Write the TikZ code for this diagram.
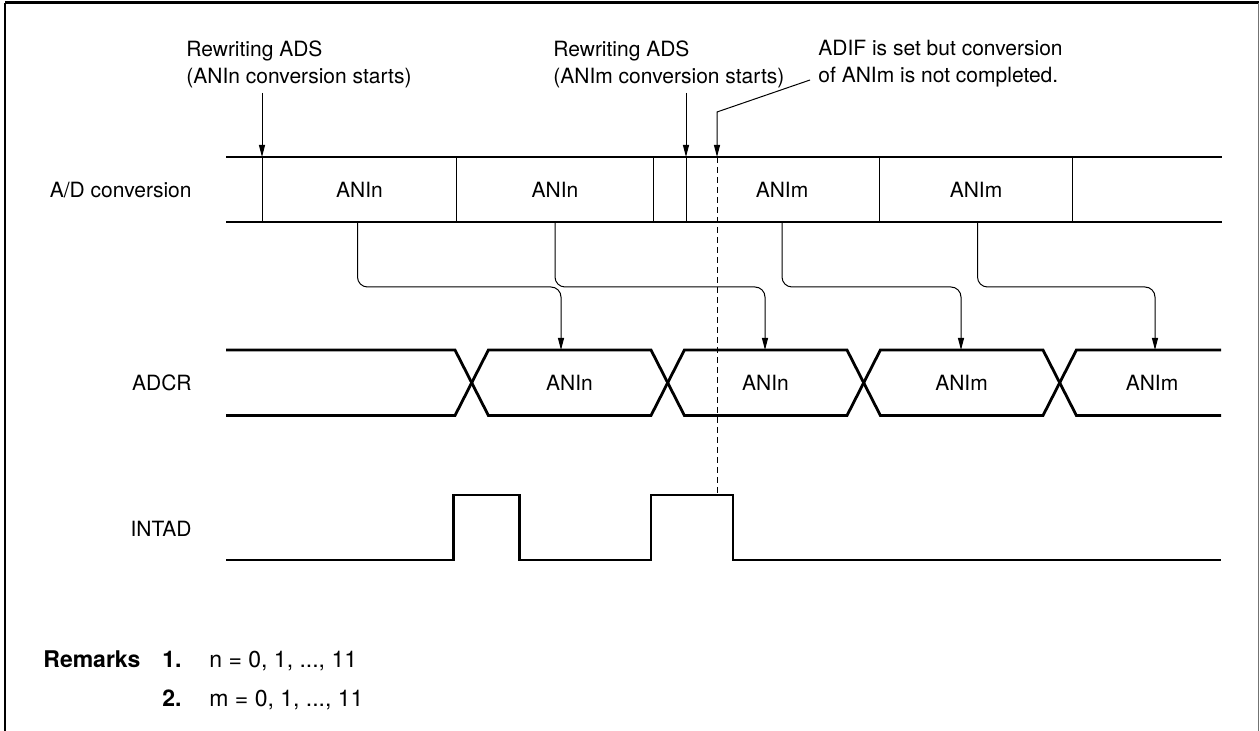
\documentclass[tikz,border=0pt]{standalone}
\usepackage{fontspec}
\setmainfont{TeX Gyre Heros}
\usetikzlibrary{arrows.meta}

\begin{document}
\begin{tikzpicture}[x=0.5pt, y=-0.5pt, font=\fontsize{10.5}{13.5}\selectfont, >={Triangle[length=6pt,width=3pt]},
  signal/.style={line width=1.4pt}, hair/.style={line width=0.5pt}, conn/.style={hair, ->, rounded corners=5pt},
  lbl/.style={inner sep=0pt}, remark/.style={lbl, font=\fontsize{11.5}{14}\selectfont}]
  \useasboundingbox (0,0) rectangle (1260,731);
  \draw[line width=1.5pt] (5,3) -- (1259,3);
  \draw[line width=1pt] (5,3) -- (5,731);
  \draw[line width=0.7pt, black!55] (1258.5,3) -- (1258.5,731);

  \node[lbl, anchor=north west, align=left] (rwn) at (186,40) {Rewriting ADS\\(ANIn conversion starts)};
  \node[lbl, anchor=north west, align=left] (rwm) at (553,40) {Rewriting ADS\\(ANIm conversion starts)};
  \node[lbl, anchor=north west, align=left] (adif) at (818,40) {ADIF is set but conversion\\of ANIm is not completed.};

  \node[lbl, anchor=east] (adc) at (192,190) {A/D conversion};
  \node[lbl, anchor=east] (adcr) at (192,383) {ADCR};
  \node[lbl, anchor=east] (intad) at (192,529) {INTAD};

  \coordinate (pn) at (262,93);  \coordinate (qn) at (262,157);
  \coordinate (pm) at (686,93);  \coordinate (qm) at (686,157);
  \coordinate (pa) at (810,80);  \coordinate (qa) at (717,157);  \coordinate (ra) at (717,495);
  \draw[->, hair] (pn) -- (qn);
  \draw[->, hair] (pm) -- (qm);
  \draw[->, hair] (pa) -- (717,112) -- (qa);
  \draw[hair, dash pattern=on 3pt off 2pt] (qa) -- (ra);

  \draw[signal] (226,157) -- (1222,157);
  \draw[signal] (226,222) -- (1222,222);
  \draw[hair] (262,157) -- (262,222);
  \draw[hair] (456,157) -- (456,222);
  \draw[hair] (653,157) -- (653,222);
  \draw[hair] (686,157) -- (686,222);
  \draw[hair] (879,157) -- (879,222);
  \draw[hair] (1072,157) -- (1072,222);
  \node[lbl] (cv1) at (359.5,190) {ANIn};
  \node[lbl] (cv2) at (555,190) {ANIn};
  \node[lbl] (cv3) at (782,190) {ANIm};
  \node[lbl] (cv4) at (976,190) {ANIm};

  \draw[signal] (226,350) -- (455,350) -- (488.4,415.5) -- (651,415.5) -- (684.4,350) -- (847,350) -- (880.4,415.5) -- (1043,415.5) -- (1076.4,350) -- (1221,350);
  \draw[signal] (226,415.5) -- (455,415.5) -- (488.4,350) -- (651,350) -- (684.4,415.5) -- (847,415.5) -- (880.4,350) -- (1043,350) -- (1076.4,415.5) -- (1221,415.5);
  \node[lbl] (dr1) at (569.5,383) {ANIn};
  \node[lbl] (dr2) at (765.5,383) {ANIn};
  \node[lbl] (dr3) at (961.5,383) {ANIm};
  \node[lbl] (dr4) at (1152,383) {ANIm};

  \coordinate (s1) at (357.5,222);  \coordinate (t1) at (561,350);
  \coordinate (s2) at (555,222);    \coordinate (t2) at (765,350);
  \coordinate (s3) at (782,222);    \coordinate (t3) at (961,350);
  \coordinate (s4) at (977.5,222);  \coordinate (t4) at (1155,350);
  \draw[conn] (s1) -- ++(0,65) -| (t1);
  \draw[conn] (s2) -- ++(0,65) -| (t2);
  \draw[conn] (s3) -- ++(0,65) -| (t3);
  \draw[conn] (s4) -- ++(0,65) -| (t4);

  \draw[signal] (226,560) -- (453.3,560) -- (453.3,495) -- (519.3,495) -- (519.3,560) -- (651,560) -- (651,495) -- (733,495) -- (733,560) -- (1221,560);

  \node[remark, anchor=base west] (rem) at (43,668) {\bfseries Remarks};
  \node[remark, anchor=base east] (rem1) at (182,668) {\bfseries 1.};
  \node[remark, anchor=base west] (remn) at (209,668) {n = 0, 1, ..., 11};
  \node[remark, anchor=base east] (rem2) at (182,707) {\bfseries 2.};
  \node[remark, anchor=base west] (remm) at (209,707) {m = 0, 1, ..., 11};
\end{tikzpicture}
\end{document}
